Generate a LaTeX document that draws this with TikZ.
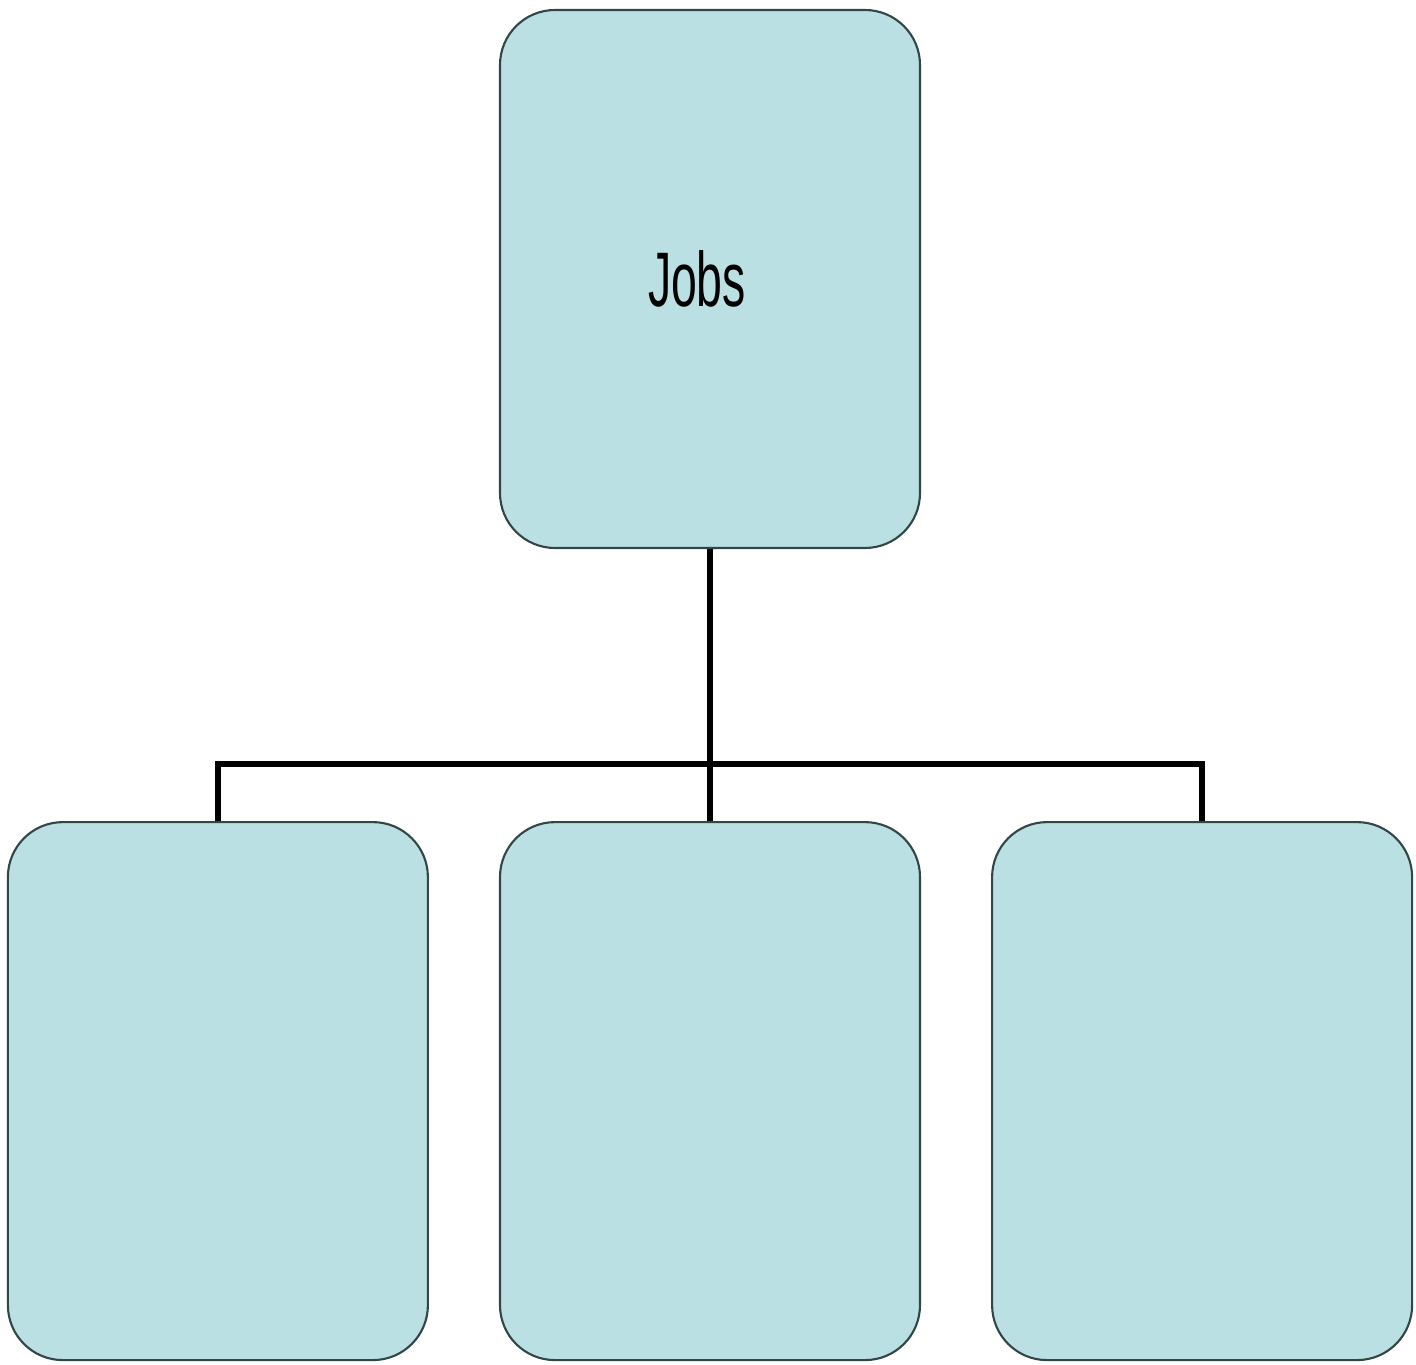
\documentclass[tikz,border=0pt]{standalone}
\usepackage{fontspec}
\setmainfont{Liberation Sans}
\usepackage{tikz}
\usetikzlibrary{positioning, calc}
\definecolor{paleteal}{RGB}{187,224,227}
\definecolor{edgegray}{RGB}{50,70,70}

\begin{document}
\begin{tikzpicture}[node distance=0.7cm, auto]
  \tikzstyle{unit} = [rectangle, draw=edgegray, line width=0.6pt, fill=paleteal, minimum width=4.2cm, minimum height=5.38cm, rounded corners=0.55cm, font=\fontsize{22}{26}\selectfont]
  \tikzstyle{link} = [draw=black, line width=1.7pt]

  \useasboundingbox (0,0) rectangle (14.16,13.64);

  \node [unit] (jobs) at (7.10,10.85) {\hspace*{-0.26cm}\scalebox{0.6}[1]{Jobs}};
  \node [unit, below=2.72cm of jobs] (mid) {};
  \node [unit, left=0.70cm of mid] (left) {};
  \node [unit, right=0.70cm of mid] (right) {};

  \coordinate (bus) at ([yshift=-2.15cm]jobs.south);

  \draw[link] (jobs) -- (mid);
  \draw[link] (left.north) |- (bus) -| (right.north);
\end{tikzpicture}
\end{document}
